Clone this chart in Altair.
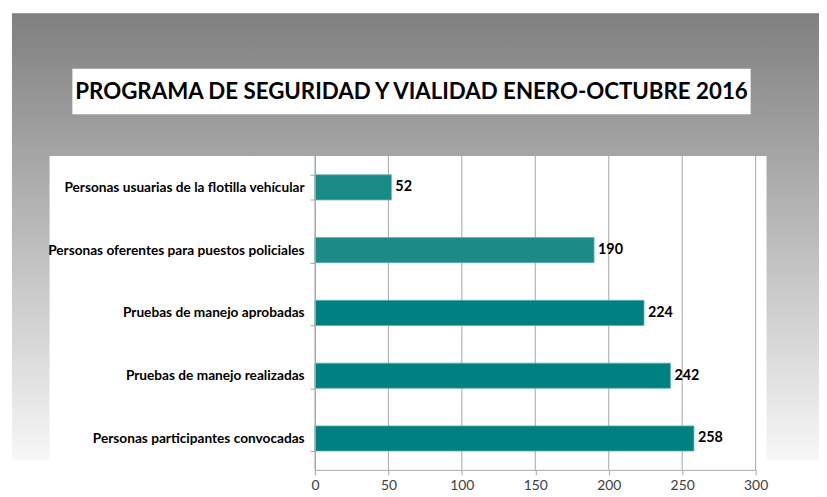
import altair as alt
import pandas as pd

# ---- data ----
categorias = [
    "Personas usuarias de la flotilla vehícular",
    "Personas oferentes para puestos policiales",
    "Pruebas de manejo aprobadas",
    "Pruebas de manejo realizadas",
    "Personas participantes convocadas",
]
valores = [52, 190, 224, 242, 258]
colores = ["#1b8b88", "#1b8b88", "#008080", "#008080", "#008080"]
ticks_x = [0, 50, 100, 150, 200, 250, 300]
titulo = "PROGRAMA DE SEGURIDAD Y VIALIDAD ENERO-OCTUBRE 2016"

df = pd.DataFrame({"categoria": categorias, "valor": valores, "color": colores})
df_ticks = pd.DataFrame({"valor": ticks_x})
one = pd.DataFrame({"a": [0]})

W, H = 445, 317
FONT = "Lato"

xscale = alt.Scale(domain=[0, 300], nice=False, zero=True)
yscale = alt.Scale(paddingInner=0.6, paddingOuter=0.3)

x_axis = alt.Axis(title=None, values=ticks_x, grid=False, labelFlush=False,
                  domainColor="#a6a6a6", tickColor="#a6a6a6", tickSize=5,
                  labelFont=FONT, labelFontSize=14, labelColor="#404040",
                  labelPadding=4, zindex=1)

grad = alt.LinearGradient(
    gradient="linear", x1=0, y1=0, x2=0, y2=1,
    stops=[alt.GradientStop(color="#7f7f7f", offset=0),
           alt.GradientStop(color="#f7f7f7", offset=1)],
)

background = alt.Chart(one).mark_rect(fill=grad).encode(
    x=alt.value(-306), x2=alt.value(520), y=alt.value(-144), y2=alt.value(307)
)
white_box = alt.Chart(one).mark_rect(fill="white").encode(
    x=alt.value(-268), x2=alt.value(456), y=alt.value(0), y2=alt.value(H + 40)
)
title_box = alt.Chart(one).mark_rect(fill="white").encode(
    x=alt.value(-245), x2=alt.value(440), y=alt.value(-88), y2=alt.value(-42)
)
title_text = alt.Chart(one).mark_text(
    text=titulo, font=FONT, fontSize=22.5, fontWeight="bold", color="black",
    align="center", baseline="middle"
).encode(x=alt.value(97.5), y=alt.value(-65))

grid = alt.Chart(df_ticks).mark_rule(color="#a6a6a6", strokeWidth=1).encode(
    x=alt.X("valor:Q", scale=xscale, axis=x_axis),
    y=alt.value(0), y2=alt.value(H),
)

bars = alt.Chart(df).mark_bar(stroke="#5fb0ad", strokeWidth=0.8).encode(
    y=alt.Y("categoria:N", sort=categorias, scale=yscale,
            axis=alt.Axis(title=None, labelFont=FONT, labelFontSize=13.8,
                          labelFontWeight="bold", labelColor="black",
                          tickBand="extent", tickSize=5, tickColor="#a6a6a6",
                          domainColor="#a6a6a6", labelPadding=6, zindex=1,
                          labelLimit=400)),
    x=alt.X("valor:Q", scale=xscale, axis=x_axis),
    color=alt.Color("color:N", scale=None),
)

labels = alt.Chart(df).mark_text(
    align="left", baseline="middle", dx=4, font=FONT, fontSize=14.5,
    fontWeight="bold", color="black"
).encode(
    y=alt.Y("categoria:N", sort=categorias, scale=yscale),
    x=alt.X("valor:Q", scale=xscale),
    text="valor:Q",
)

chart = alt.layer(
    background, white_box, title_box, title_text, grid, bars, labels
).properties(
    width=W, height=H,
    padding={"left": 310, "top": 147, "right": 64, "bottom": 25},
    autosize=alt.AutoSizeParams(type="none"),
).configure_view(stroke=None)

chart.save("out.html", embed_options={"renderer": "svg", "actions": False})
